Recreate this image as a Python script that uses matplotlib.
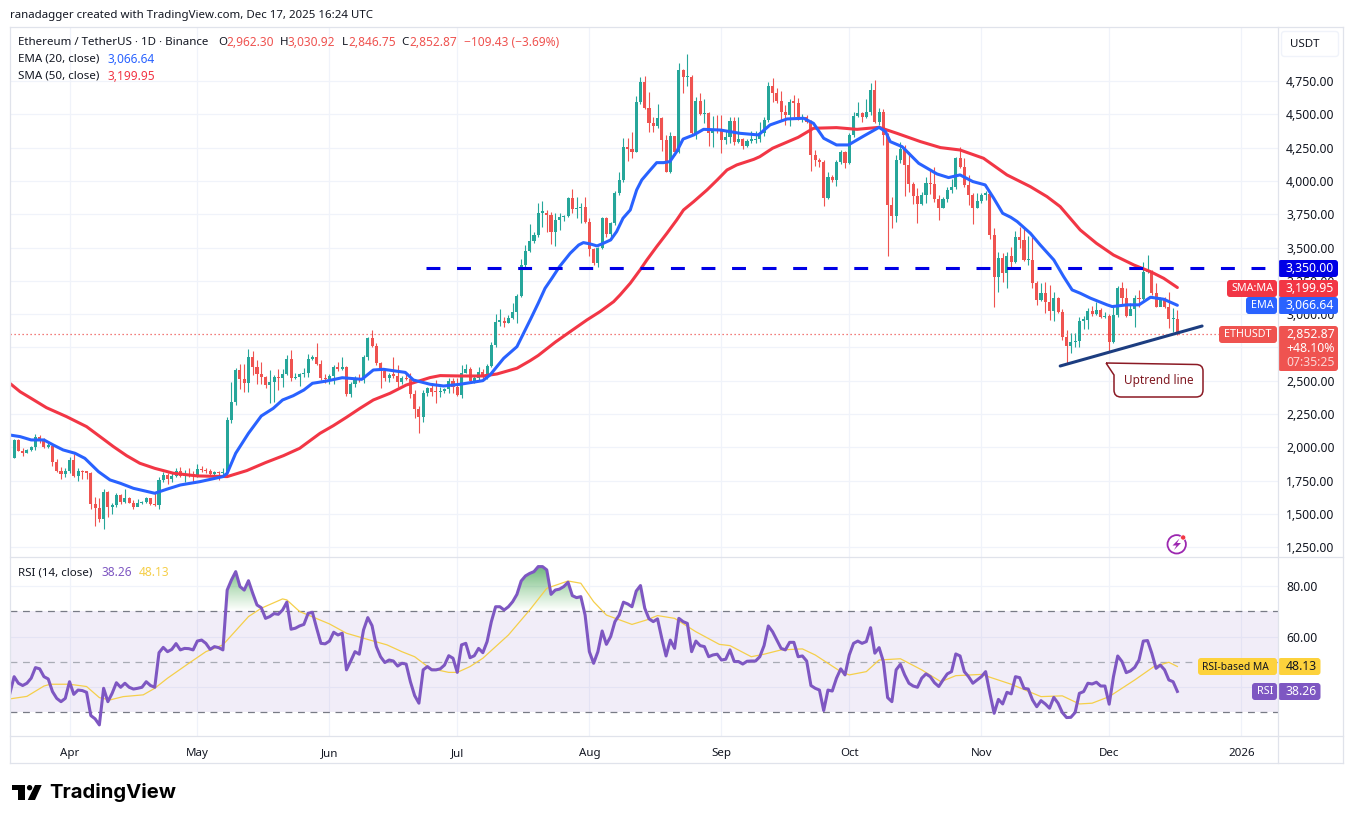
import numpy as np
import matplotlib
matplotlib.use("Agg")
import matplotlib.pyplot as plt
from matplotlib.patches import FancyBboxPatch, PathPatch, Polygon, Circle
from matplotlib.path import Path

# === DATA === (days counted from 2025-04-01, first candle is 2025-03-19)
first_day = -13
first_open = 1924

closes = [2056, 1976, 1961, 1981, 2006, 2076, 2046, 2006, 2011, 1893, 1826, 1801, 1826,
          1906, 1786, 1821, 1816, 1811, 1576, 1548, 1461, 1666, 1551, 1568, 1646, 1593, 1623, 1586,
          1556, 1583, 1590, 1618, 1576, 1566, 1756, 1793, 1761, 1788, 1826, 1786, 1795, 1793,
          1788, 1836, 1831, 1823, 1801, 1816, 1806, 1818, 2206, 2338, 2581, 2511, 2486, 2676,
          2606, 2548, 2531, 2468, 2493, 2531, 2518, 2548, 2663, 2518, 2528, 2548, 2561, 2663,
          2681, 2626, 2518, 2513, 2536, 2606, 2588, 2601, 2401, 2476, 2518, 2506, 2681, 2818,
          2761, 2631, 2576, 2523, 2543, 2538, 2493, 2518, 2513, 2401, 2288, 2226, 2406, 2443,
          2418, 2417, 2424, 2437, 2501, 2456, 2391, 2561, 2586, 2501, 2518, 2569, 2526, 2611,
          2769, 2944, 2951, 2936, 2974, 3019, 3136, 3369, 3477, 3549, 3594, 3761, 3761, 3745,
          3620, 3707, 3727, 3737, 3875, 3790, 3794, 3807, 3694, 3487, 3382, 3494, 3724, 3602,
          3687, 3912, 4007, 4257, 4240, 4220, 4590, 4745, 4545, 4437, 4413, 4470, 4307, 4067,
          4337, 4220, 4832, 4778, 4780, 4362, 4600, 4502, 4507, 4357, 4382, 4380, 4307, 4327,
          4450, 4295, 4315, 4262, 4302, 4307, 4315, 4357, 4457, 4712, 4657, 4600, 4520, 4492,
          4595, 4587, 4465, 4477, 4445, 4195, 4157, 4144, 3870, 4032, 4007, 4139, 4219, 4132,
          4345, 4487, 4512, 4482, 4520, 4682, 4445, 4520, 4345, 3820, 3740, 4157, 4240, 4120,
          3977, 3890, 3824, 3894, 3987, 3977, 3864, 3800, 3861, 3932, 3952, 4170, 4107, 3969,
          3894, 3799, 3849, 3897, 3905, 3594, 3282, 3419, 3306, 3436, 3394, 3582, 3557, 3407,
          3407, 3231, 3106, 3162, 3094, 3026, 3118, 3018, 2831, 2761, 2790, 2799, 2951, 2958,
          3026, 3000, 3030, 2976, 2985, 2793, 2994, 3194, 3119, 2986, 3040, 3120, 3115, 3319,
          3325, 3160, 3057, 3119, 3056, 2961, 2962.3, 2852.87]

highs = [2060, 2060, 1993, 1988, 2013, 2101, 2091, 2071, 2036, 2013, 1913, 1851, 1843,
         1926, 1951, 1843, 1831, 1826, 1818, 1631, 1618, 1686, 1671, 1581, 1656, 1651, 1686, 1631,
         1606, 1613, 1598, 1631, 1623, 1656, 1776, 1818, 1811, 1818, 1843, 1851, 1831, 1843,
         1826, 1876, 1861, 1843, 1841, 1826, 1823, 1843, 2226, 2488, 2593, 2626, 2626, 2736,
         2723, 2656, 2643, 2536, 2581, 2543, 2588, 2586, 2691, 2731, 2556, 2561, 2593, 2701,
         2691, 2781, 2656, 2548, 2548, 2618, 2643, 2676, 2611, 2493, 2536, 2548, 2693, 2831,
         2881, 2781, 2643, 2586, 2556, 2676, 2616, 2536, 2551, 2561, 2431, 2311, 2431, 2456,
         2481, 2506, 2456, 2449, 2519, 2519, 2519, 2619, 2626, 2606, 2544, 2601, 2586, 2626,
         2794, 3001, 3036, 2981, 2994, 3081, 3151, 3414, 3519, 3676, 3620, 3832, 3852, 3782,
         3765, 3757, 3757, 3745, 3882, 3937, 3877, 3832, 3882, 3720, 3500, 3507, 3732, 3732,
         3695, 3922, 4064, 4320, 4325, 4365, 4637, 4778, 4788, 4670, 4482, 4575, 4482, 4345,
         4370, 4337, 4882, 4838, 4950, 4795, 4632, 4657, 4612, 4520, 4487, 4495, 4495, 4377,
         4482, 4477, 4477, 4320, 4312, 4377, 4377, 4445, 4477, 4745, 4770, 4695, 4677, 4570,
         4612, 4645, 4620, 4502, 4495, 4457, 4232, 4170, 4157, 4070, 4045, 4157, 4232, 4225,
         4357, 4520, 4590, 4520, 4612, 4732, 4757, 4545, 4537, 4357, 3882, 4195, 4290, 4270,
         4220, 3995, 3945, 3920, 4027, 4077, 4107, 3895, 3877, 3957, 4015, 4182, 4252, 4170,
         4045, 3907, 3907, 3907, 3925, 3920, 3649, 3470, 3462, 3470, 3507, 3627, 3657, 3657,
         3587, 3582, 3251, 3232, 3244, 3219, 3169, 3131, 3036, 2881, 2856, 2856, 2982, 2986,
         3044, 3062, 3094, 3044, 3019, 3002, 3057, 3212, 3244, 3194, 3082, 3144, 3182, 3394,
         3444, 3332, 3236, 3132, 3126, 3169, 3044, 3030.92]

lows = [1924, 1970, 1938, 1956, 1975, 1981, 2035, 1993, 1993, 1861, 1818, 1763, 1781,
        1811, 1781, 1751, 1761, 1763, 1538, 1411, 1443, 1386, 1476, 1498, 1551, 1576, 1586, 1581,
        1538, 1561, 1576, 1581, 1568, 1561, 1541, 1738, 1726, 1741, 1776, 1781, 1743, 1781,
        1743, 1781, 1813, 1811, 1793, 1781, 1753, 1776, 1793, 2186, 2321, 2438, 2413, 2418,
        2543, 2476, 2473, 2448, 2331, 2343, 2431, 2456, 2543, 2498, 2513, 2461, 2531, 2531,
        2656, 2618, 2506, 2481, 2476, 2473, 2576, 2581, 2386, 2381, 2456, 2493, 2481, 2656,
        2756, 2618, 2443, 2498, 2493, 2518, 2456, 2476, 2506, 2368, 2218, 2111, 2193, 2388,
        2386, 2331, 2381, 2411, 2406, 2406, 2386, 2371, 2556, 2481, 2481, 2501, 2511, 2511,
        2601, 2751, 2914, 2906, 2931, 2961, 2936, 3126, 3351, 3465, 3532, 3582, 3657, 3620,
        3527, 3512, 3632, 3702, 3727, 3757, 3720, 3682, 3687, 3437, 3369, 3351, 3487, 3582,
        3572, 3670, 3895, 3995, 4152, 4169, 4220, 4577, 4540, 4370, 4370, 4395, 4225, 4065,
        4057, 4195, 4207, 4663, 4712, 4352, 4312, 4495, 4432, 4262, 4257, 4357, 4212, 4277,
        4282, 4270, 4282, 4237, 4257, 4282, 4287, 4295, 4337, 4445, 4595, 4582, 4457, 4420,
        4412, 4482, 4457, 4445, 4432, 4077, 4112, 4102, 3815, 3862, 3995, 3965, 4127, 4094,
        4127, 4332, 4482, 4445, 4470, 4495, 4432, 4420, 4270, 3439, 3644, 3694, 4137, 3889,
        3920, 3827, 3682, 3820, 3832, 3902, 3845, 3707, 3795, 3845, 3907, 3937, 4095, 3957,
        3819, 3677, 3795, 3832, 3860, 3561, 3056, 3169, 3244, 3194, 3357, 3382, 3494, 3402,
        3369, 3194, 3069, 3101, 3007, 2956, 2951, 3007, 2806, 2631, 2706, 2756, 2757, 2886,
        2886, 2986, 2994, 2968, 2968, 2726, 2786, 2982, 3069, 2981, 3007, 2906, 3051, 3106,
        3306, 3144, 3051, 3076, 3044, 2894, 2868, 2846.75]

ema_days = [-14, -11.6, -9, -6, -3.8, -1.5, 1.3, 3.6, 6.8, 9.5, 11.9, 15, 20, 22.8, 26, 30.6, 36, 37, 39, 42,
            45, 47.8, 50, 52.5, 55, 57, 60.3, 64, 68.6, 71.3, 73.7, 78.8, 80.7, 84.6, 87.8, 91.7, 97, 98.7,
            101.9, 105, 108.3, 110, 111.6, 113.2, 115, 117.5, 119.5, 120.6, 122.2, 123.8, 125.3, 127, 128.4,
            129.9, 131.6, 133.1, 134.3, 136.3, 137.8, 139.4, 140.9, 142.5, 144, 146.5, 148.8, 152.7,
            157.4, 161.7, 164.4, 168.4, 172.3, 174.6, 177, 180, 182.8, 186.4, 190, 191.5, 192.6,
            195.4, 199.3, 203.6, 206.3, 209, 212, 214.9, 216.9, 219, 220.9, 222.4, 225.5, 227.8, 231, 233.3,
            235.3, 237.2, 239.6, 241, 243.5, 244.7, 248.2, 251, 253.7, 256.8, 260]
ema_vals = [2093, 2081, 2056, 2056, 2018, 1981, 1956, 1918, 1818, 1756, 1731, 1693, 1656, 1686, 1718, 1743, 1781,
            1806, 1956, 2106, 2236, 2293, 2356, 2388, 2431, 2481, 2498, 2523, 2511, 2581, 2586, 2563, 2506, 2474,
            2461, 2474, 2501, 2544, 2669, 2756, 2969, 3082, 3194, 3269, 3357, 3457, 3519, 3537, 3527, 3512, 3532,
            3557, 3620, 3720, 3782, 3932, 4007, 4082, 4137, 4137, 4145, 4220, 4314, 4345, 4387, 4382,
            4357, 4345, 4420, 4465, 4470, 4432, 4320, 4270, 4270, 4337, 4402, 4370, 4295,
            4257, 4132, 4052, 4025, 4045, 3995, 3970, 3870, 3757, 3727, 3695, 3607, 3520, 3407, 3282,
            3182, 3157, 3120, 3102, 3070, 3057, 3070, 3070, 3127, 3112, 3066.64]

sma_days = [-14, -11.6, -9, -5.4, -0.7, 4, 8, 10.3, 13.4, 16.5, 20, 24.4, 30, 37, 41.6, 46, 50.2, 54, 58.8, 61.9, 65,
            68.2, 71.3, 75.2, 79, 84.6, 87, 91.7, 97, 100.3, 105, 108.1, 110, 114, 118, 121.4, 124.5, 127.7, 129.2,
            131.6, 133.9, 135.5, 137.8, 140.2, 142.5, 144.1, 146.5, 149.6, 152, 154.3, 156.6, 160.6, 162, 165, 171,
            174.6, 180, 184.8, 190, 194.2, 199.7, 204.4, 209, 214.5, 220, 225.5,
            229.4, 232.5, 237.2, 241, 245, 249.8, 253.7, 256.8, 260]
sma_vals = [2481, 2418, 2368, 2298, 2231, 2156, 2061, 2006, 1938, 1881, 1843, 1806, 1786, 1781, 1826, 1886, 1938, 1993,
            2106, 2163, 2226, 2294, 2356, 2406, 2468, 2524, 2539, 2536, 2536, 2551, 2594, 2651, 2690, 2790, 2880, 2956,
            3019, 3094, 3144, 3232, 3332, 3407, 3507, 3607, 3707, 3782, 3845, 3932, 4007, 4082, 4120, 4162, 4182, 4245,
            4327, 4395, 4400, 4387, 4402, 4357, 4295, 4250, 4232, 4170, 4045, 3957, 3882, 3807, 3632, 3532, 3444, 3369,
            3319, 3269, 3199.95]

rsi_first_day = -14
rsi_vals = [37.5, 44.1, 41.5, 40.6, 41.5, 43.5, 47.7, 47.2, 44.1, 43.2, 38.2, 35.5, 34.2, 35.5,
            42.1, 37.1, 38.8, 38.6, 37.9, 28.7, 27.4, 25.0, 39.5, 34.2, 37.5, 41.7, 39.9, 41.5,
            39.9, 39.2, 39.5, 39.9, 42.1, 40.6, 39.9, 53.6, 55.7, 54.0, 54.9, 57.2, 54.7, 55.3,
            55.2, 54.7, 58.2, 58.6, 57.3, 54.9, 56.0, 55.6, 54.7, 78.4, 82.4, 85.7, 79.8, 78.4,
            82.1, 77.1, 72.5, 71.4, 67.2, 67.9, 69.1, 68.8, 70.5, 73.6, 62.9, 63.3, 64.2, 64.8,
            69.2, 69.6, 63.3, 57.3, 57.1, 58.2, 61.7, 60.6, 61.3, 46.8, 50.3, 54.0, 53.0, 62.6,
            67.5, 64.3, 56.0, 52.0, 49.7, 50.7, 50.3, 48.3, 49.4, 49.1, 42.1, 36.6, 33.6, 46.8,
            48.1, 46.8, 46.8, 47.2, 48.7, 52.4, 51.4, 45.8, 56.7, 57.3, 51.6, 52.4, 55.3, 53.6,
            58.0, 65.9, 71.8, 71.8, 70.5, 71.8, 73.8, 76.7, 82.0, 84.0, 85.0, 85.7, 87.7, 87.7,
            86.4, 76.7, 78.4, 78.8, 79.8, 81.5, 76.2, 75.4, 75.8, 68.5, 54.0, 49.4, 54.0, 62.2,
            56.9, 60.0, 65.9, 68.5, 73.6, 72.9, 71.8, 78.0, 80.2, 71.2, 67.0, 65.9, 67.0, 59.3,
            52.3, 58.6, 55.3, 67.2, 65.9, 65.2, 54.0, 58.2, 56.4, 56.0, 52.0, 52.7, 53.0, 50.7,
            51.0, 54.7, 50.1, 50.1, 49.1, 50.2, 50.3, 50.3, 52.0, 56.4, 64.2, 61.9, 58.6, 55.3,
            54.7, 57.7, 57.7, 52.0, 52.3, 50.3, 40.6, 39.5, 38.8, 30.7, 38.8, 38.4, 43.5, 47.2,
            44.8, 52.7, 57.3, 58.2, 57.3, 58.0, 63.5, 53.4, 55.6, 50.1, 35.8, 34.2, 46.8, 49.0,
            44.8, 41.5, 40.4, 39.9, 43.5, 45.2, 44.1, 41.7, 40.2, 42.8, 45.2, 46.1, 53.1, 52.3,
            46.1, 44.1, 41.5, 42.8, 44.1, 46.1, 37.5, 29.6, 35.1, 33.3, 37.9, 37.3, 44.1, 43.7,
            39.5, 39.2, 34.9, 32.2, 34.6, 33.3, 31.6, 35.9, 33.6, 29.9, 27.9, 28.0, 29.9, 37.5,
            38.2, 41.5, 41.2, 41.9, 40.4, 40.4, 33.2, 44.1, 52.3, 50.1, 45.7, 46.4, 47.8, 50.7,
            58.2, 58.4, 53.4, 47.4, 48.7, 46.8, 42.8, 42.1, 38.26]

rsi_ma_days = [-14, -10, -6, -4.5, 0, 4, 7, 9.5, 12.6, 17.3, 20, 23, 28, 32, 36, 42, 45, 50, 51, 54, 61,
               65, 70.5, 74.5, 78, 81, 84.6, 89, 91, 94, 97, 103, 108, 112, 117, 120, 123, 126, 132,
               135.5, 138, 142, 147, 152.5, 155, 160, 163, 167, 172, 175, 181, 183, 187, 190, 195,
               200, 204.5, 208, 214, 221, 228, 233, 237, 240, 244, 250, 254.5, 258, 260]
rsi_ma_vals = [35.3, 36.3, 40.4, 41.1, 41.1, 40.2, 35.8, 34.9, 36.2, 36.9, 39.5, 43.5, 49.4, 54.0, 56.7,
               67.9, 71.2, 74.9, 74.5, 69.9, 65.0, 61.3, 58.6, 56.7, 54.0, 52.0, 47.4, 45.8, 45.8, 48.1,
               51.4, 60.6, 70.5, 79.1, 82.0, 81.1, 73.8, 68.5, 64.8, 66.6, 68.3, 67.2, 61.9, 56.9, 56.4,
               52.0, 53.0, 54.7, 55.1, 52.7, 46.1, 44.8, 46.1, 50.7, 51.2, 46.8, 42.1, 44.5, 45.0, 41.1,
               36.2, 36.5, 33.3, 33.6, 36.2, 42.8, 48.1, 49.8, 48.13]

price_ticks = [1250, 1500, 1750, 2000, 2250, 2500, 2750, 3000, 3250, 3500, 3750, 4000, 4250, 4500, 4750]
rsi_ticks = [40, 60, 80]
month_days = [0, 30, 61, 91, 122, 153, 183, 214, 244, 275]
month_names = ["Apr", "May", "Jun", "Jul", "Aug", "Sep", "Oct", "Nov", "Dec", "2026"]

resistance = 3350
last_close = 2852.87
trend_days = [232.5, 265.8]
trend_vals = [2611, 2911]

# === STYLE ===
plt.rcParams["font.family"] = ["Noto Sans", "DejaVu Sans"]
W, H = 1353, 823
GREEN = "#26a69a"
RED = "#ef5350"
GRID = "#f0f3fa"
BORDER = "#e0e3eb"
INK = "#131722"
YELLOW = "#f5cf4a"
FS = 8.8   # numbers
WS = 8.3   # words in the legend
TS = 7.8   # words in the tags


def axes_px(x0, y0, x1, y1):
    return fig.add_axes([x0 / W, 1 - y1 / H, (x1 - x0) / W, (y1 - y0) / H])


fig = plt.figure(figsize=(W / 100, H / 100), dpi=100, facecolor="white")
ax = axes_px(10, 27, 1277.5, 557)
ax2 = axes_px(10, 557, 1277.5, 735.5)
days_lim = (-13.97, 283.5)

# === PRICE PANE ===
days = np.arange(first_day, first_day + len(closes))
closes = np.array(closes, dtype=float)
opens = np.r_[first_open, closes[:-1]]
colors = [GREEN if c >= o else RED for o, c in zip(opens, closes)]

ax.vlines(days, lows, highs, colors=colors, lw=0.8, zorder=3)
body = np.maximum(np.abs(closes - opens), 10)
ax.bar(days, body, bottom=np.minimum(opens, closes), width=0.72, color=colors, zorder=3)

ax.plot(sma_days, sma_vals, color="#f23645", lw=2.2, zorder=4, solid_capstyle="round", solid_joinstyle="round")
ax.plot(ema_days, ema_vals, color="#2962ff", lw=2.2, zorder=5, solid_capstyle="round", solid_joinstyle="round")
ax.axhline(last_close, color=RED, lw=0.9, ls=(0, (1, 2.2)), zorder=2)
ax.plot([83.7, 281], [resistance, resistance], color="#0000e6", lw=2.2, ls=(0, (4.55, 5.45)), zorder=6,
        dash_capstyle="butt")
ax.plot(trend_days, trend_vals, color="#1c3d80", lw=2.2, zorder=6, solid_capstyle="round")

ax.set_xlim(days_lim)
ax.set_ylim(1177.6, 5155)
ax.yaxis.tick_right()
ax.set_yticks(price_ticks)
ax.set_yticklabels([f"{t:,.2f}" for t in price_ticks])

# === RSI PANE ===
rsi = np.array(rsi_vals)
rsi_days = np.arange(rsi_first_day, rsi_first_day + len(rsi))
ax2.axhspan(30, 70, color="#7e57c2", alpha=0.1, lw=0, zorder=1)
for level, col in [(70, "#787b86"), (50, "#a9acb5"), (30, "#787b86")]:
    ax2.axhline(level, color=col, lw=0.9, ls=(0, (5.5, 4.5)), zorder=2)

# overbought gradient, clipped to the part of the line above 70
over = ax2.fill_between(rsi_days, 70, rsi, where=rsi > 70, interpolate=True, color="none", lw=0)
clip = Path.make_compound_path(*over.get_paths())
grad = np.linspace(0, 1, 128).reshape(-1, 1)
cmap = matplotlib.colors.LinearSegmentedColormap.from_list(
    "over", [(0.30, 0.69, 0.31, 0.0), (0.22, 0.62, 0.30, 0.75)])
im = ax2.imshow(grad, cmap=cmap, origin="lower", aspect="auto", extent=(days_lim[0], days_lim[1], 70, 88), zorder=2)
im.set_clip_path(clip, transform=ax2.transData)

ax2.plot(rsi_ma_days, rsi_ma_vals, color=YELLOW, lw=0.9, zorder=3)
ax2.plot(rsi_days, rsi, color="#7e57c2", lw=2.2, zorder=4, solid_joinstyle="round")

ax2.set_xlim(days_lim)
ax2.set_ylim(20.8, 91.5)
ax2.yaxis.tick_right()
ax2.set_yticks(rsi_ticks)
ax2.set_yticklabels([f"{t:.2f}" for t in rsi_ticks])
ax2.set_xticks(month_days)
ax2.set_xticklabels(month_names)
ax2.get_xticklabels()[-1].set_fontweight("bold")

for a in (ax, ax2):
    a.set_facecolor("white")
    a.grid(True, color=GRID, lw=0.9, zorder=0)
    a.set_axisbelow(True)
    a.tick_params(length=0, colors=INK, labelsize=FS)
    a.tick_params(axis="y", pad=6.2)
    for s in a.spines.values():
        s.set_visible(False)
ax.tick_params(axis="x", labelbottom=False)
ax.set_xticks(month_days)
ax2.tick_params(axis="x", pad=9, labelsize=WS)

# === OVERLAY (pixel coords): frame, legends, tags, drawings ===
ov = fig.add_axes([0, 0, 1, 1], zorder=10)
ov.set_xlim(0, W)
ov.set_ylim(H, 0)
ov.axis("off")
ov.patch.set_alpha(0)


def txt(x, y, s, color=INK, size=FS, **kw):
    kw.setdefault("va", "center")
    return ov.text(x, y, s, color=color, fontsize=size, **kw)


def tag(x0, y0, x1, y1, color):
    ov.add_patch(FancyBboxPatch((x0 + 2, y0 + 2), x1 - x0 - 4, y1 - y0 - 4, boxstyle="round,pad=2,rounding_size=3",
                                fc=color, ec="none", mutation_aspect=1))


# frame
for x in (10, 1277.5, 1343):
    ov.plot([x, x], [27, 763], color=BORDER, lw=0.9)
for y in (27, 557, 735.5, 763):
    ov.plot([10, 1343], [y, y], color=BORDER, lw=0.9)

txt(10, 15, "ranadagger created with TradingView.com, Dec 17, 2025 16:24 UTC", size=8.25)

# legend
txt(18, 42, "Ethereum / TetherUS · 1D · Binance", size=WS)
for x, s in [(218, "O"), (280, "H"), (342, "L"), (401.5, "C")]:
    txt(x, 42, s, size=WS)
for x, s in [(226.5, "2,962.30"), (288, "3,030.92"), (348.5, "2,846.75"), (409.5, "2,852.87"),
             (464, "−109.43 (−3.69%)")]:
    txt(x, 42, s, color=RED, size=8.6)
txt(18, 59, "EMA (20, close)", size=WS)
txt(107.5, 59, "3,066.64", color="#2962ff", size=8.6)
txt(18, 76, "SMA (50, close)", size=WS)
txt(107, 76, "3,199.95", color="#f23645", size=8.6)
txt(18, 573, "RSI (14, close)", size=WS)
txt(102, 573, "38.26", color="#7e57c2", size=8.6)
txt(138.5, 573, "48.13", color=YELLOW, size=8.6)

# USDT box
ov.add_patch(FancyBboxPatch((1283, 33), 54, 22, boxstyle="round,pad=1.5,rounding_size=3", fc="white", ec=GRID, lw=1))
txt(1290, 44, "USDT", size=WS)

# price tags
tag(1278, 260, 1338, 277, "#0000e6")
txt(1286, 268, "3,350.00", color="white")
tag(1227, 280, 1277, 297, "#f23645")
tag(1278, 280, 1338, 297, "#f23645")
txt(1232, 288.5, "SMA:MA", color="white", size=TS)
txt(1286, 288.5, "3,199.95", color="white")
tag(1246, 297, 1277, 314, "#2962ff")
tag(1278, 297, 1338, 314, "#2962ff")
txt(1251, 305.5, "EMA", color="white", size=TS)
txt(1286, 305.5, "3,066.64", color="white")
tag(1219, 326, 1277, 343, RED)
tag(1278, 326, 1338, 371, RED)
txt(1224, 334.5, "ETHUSDT", color="white", size=TS)
txt(1286, 334, "2,852.87", color="white")
txt(1286, 348, "+48.10%", color="white")
txt(1286, 362, "07:35:25", color="#fbd5d4")

# RSI tags
tag(1198, 658, 1277, 675, "#fdd23c")
tag(1278, 658, 1320.5, 675, "#fdd23c")
txt(1202.5, 667, "RSI-based MA", size=7.4)
txt(1286, 667, "48.13")
tag(1252, 683, 1277, 700, "#7e57c2")
tag(1278, 683, 1320.5, 700, "#7e57c2")
txt(1257, 691.5, "RSI", color="white", size=TS)
txt(1286, 691.5, "38.26", color="white")

# callout
M, L, Q = Path.MOVETO, Path.LINETO, Path.CURVE3
call = [(1106, 363), (1196, 364.5), (1203, 364.5), (1203, 371), (1203, 390), (1203, 397), (1196, 397),
        (1121, 397), (1114, 397), (1114, 390), (1114, 375), (1106, 363)]
codes = [M, L, Q, Q, L, Q, Q, L, Q, Q, L, L]
ov.add_patch(PathPatch(Path(call, codes), fc="white", ec="#8b1a24", lw=1.1, zorder=8))
txt(1158.5, 380.5, "Uptrend line", color="#801922", ha="center", zorder=9, size=8.5)

# lightning badge
ov.add_patch(Circle((1176.7, 544.3), 9.2, fc="white", ec="#9c27b0", lw=1.3))
ov.add_patch(Polygon([(1179.5, 538.5), (1172.5, 545.5), (1176.5, 545.5), (1174, 550), (1181, 543), (1177, 543)],
                     fc="#9c27b0", ec="none"))
ov.add_patch(Circle((1183.2, 537.5), 2.6, fc="#f23645", ec="white", lw=0.5))

# TradingView logo
ov.add_patch(Polygon([(12, 785), (25, 785), (25, 800), (18.3, 800), (18.3, 790.3), (12, 790.3)], fc="black", ec="none"))
ov.add_patch(Circle((29.6, 787.7), 2.7, fc="black", ec="none"))
ov.add_patch(Polygon([(35, 785), (41.7, 785), (35, 800), (27.7, 800)], fc="black", ec="none"))
txt(49, 793, "TradingView", color="black", size=14.6, fontweight="bold", family="Inter")

fig.savefig("out.png", dpi=100, facecolor="white")
